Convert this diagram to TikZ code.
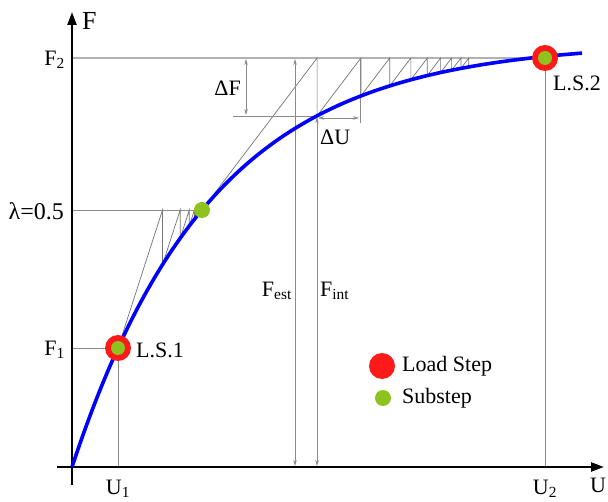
\documentclass[tikz,border=0pt]{standalone}
\usepackage{fontspec}
\setmainfont{Liberation Serif}
\usetikzlibrary{arrows.meta}
\definecolor{ssgreen}{HTML}{8DC21F}
\definecolor{lsred}{HTML}{FF1A1A}
\definecolor{ln}{HTML}{8A8A8A}
\pgfmathdeclarefunction{cy}{1}{\pgfmathparse{467-425*(1-exp(-(#1-72)/140))}}
\tikzset{
  axis/.style={line width=2.4pt, black},
  thin gray/.style={draw=ln, line width=0.8pt},
  iter/.style={draw=ln!85!black, line width=0.7pt},
  level/.style={draw=black!30, line width=1.6pt},
  dim/.style={draw=ln, line width=0.8pt, {Stealth[length=6pt,width=3.5pt]}-{Stealth[length=6pt,width=3.5pt]}},
  lbl/.style={inner sep=0pt, font=\fontsize{22}{24}\selectfont},
  loadstep/.style={circle, fill=lsred, minimum size=26pt, inner sep=0pt},
  substep/.style={circle, fill=ssgreen, minimum size=14pt, inner sep=0pt},
  subbig/.style={circle, fill=ssgreen, minimum size=16pt, inner sep=0pt},
}
\begin{document}
\begin{tikzpicture}[x=1pt,y=-1pt]
\useasboundingbox (0,0) rectangle (608,502);
\fill[white] (0,0) rectangle (608,502);
% coordinates
\coordinate (O) at (72,467);
\coordinate (ytop) at (72,12);
\coordinate (ybot) at (72,485);
\coordinate (xleft) at (57,467);
\coordinate (xright) at (604,467);
\coordinate (F2l) at (72,58);
\coordinate (F1l) at (72,348);
\coordinate (Ll) at (72,210);
\coordinate (U1b) at (118,467);
\coordinate (U2b) at (545,467);
% F2 level line
\draw[level] (F2l) -- (545,58);
% guide lines
\draw[thin gray] (F1l) -- (118,348);
\draw[thin gray] (118,348) -- (U1b);
\draw[thin gray] (Ll) -- (202,210);
\draw[thin gray] (545,58) -- (U2b);
% lower iterations (initial stiffness)
\xdef\cx{118}
\foreach \i in {1,...,8}{
  \pgfmathsetmacro\cyv{cy(\cx)}
  \pgfmathsetmacro\nx{\cx+(\cyv-210)/3.1}
  \pgfmathsetmacro\ny{cy(\nx)}
  \draw[iter] (\cx,\cyv) -- (\nx,210) -- (\nx,\ny);
  \xdef\cx{\nx}
}
% upper iterations
\xdef\cx{202}
\foreach \i in {1,...,9}{
  \pgfmathsetmacro\cyv{cy(\cx)}
  \pgfmathsetmacro\nx{\cx+(\cyv-58)/1.32}
  \pgfmathsetmacro\ny{cy(\nx)}
  \draw[iter] (\cx,\cyv) -- (\nx,58) -- (\nx,\ny);
  \xdef\cx{\nx}
}
% Delta F / Delta U
\draw[thin gray] (233,116) -- (317,116);
\draw[thin gray] (360,58) -- (360,123);
\draw[dim] (246,59) -- (246,115);
\draw[dim] (318,118) -- (359,118);
\node[lbl, anchor=east] (dF) at (241,88) {ΔF};
\node[lbl, anchor=west] (dU) at (320,137) {ΔU};
% F_est, F_int
\draw[dim] (295,59) -- (295,466);
\draw[dim] (317,117) -- (317,466);
\node[lbl, anchor=east] (Fest) at (292,291) {F\textsubscript{est}};
\node[lbl, anchor=west] (Fint) at (320,291) {F\textsubscript{int}};
% axes
\draw[axis, -{Triangle[length=13pt,width=9pt]}] (ybot) -- (ytop);
\draw[axis, -{Triangle[length=13pt,width=9pt]}] (xleft) -- (xright);
% curve
\draw[blue, line width=3.6pt] plot[smooth, domain=72:582, samples=80] (\x,{cy(\x)});
% markers
\node[loadstep] (LS1) at (118,348) {};
\node[substep] (LS1g) at (118,348) {};
\node[loadstep] (LS2) at (545,58) {};
\node[substep] (LS2g) at (545,58) {};
\node[subbig] (SS) at (202,210) {};
% labels
\node[lbl, anchor=west] (F) at (82,21) {\fontsize{26}{28}\selectfont F};
\node[lbl, anchor=east] (F2) at (65,60) {F\textsubscript{2}};
\node[lbl, anchor=east] (F1) at (65,350) {F\textsubscript{1}};
\node[lbl, anchor=east] (lam) at (64,211) {\fontsize{24}{26}\selectfont λ=0.5};
\node[lbl, anchor=north] (U1) at (118,480) {U\textsubscript{1}};
\node[lbl, anchor=north] (U2) at (545,480) {U\textsubscript{2}};
\node[lbl, anchor=north] (U) at (598,478) {U};
\node[lbl, anchor=west] (LS1t) at (136,350) {L.S.1};
\node[lbl, anchor=west] (LS2t) at (553,83) {L.S.2};
% legend
\node[loadstep] (legR) at (382,366) {};
\node[lbl, anchor=west] (legRt) at (402,366) {Load Step};
\node[subbig] (legG) at (383,398) {};
\node[lbl, anchor=west] (legGt) at (402,398) {Substep};
\end{tikzpicture}
\end{document}
